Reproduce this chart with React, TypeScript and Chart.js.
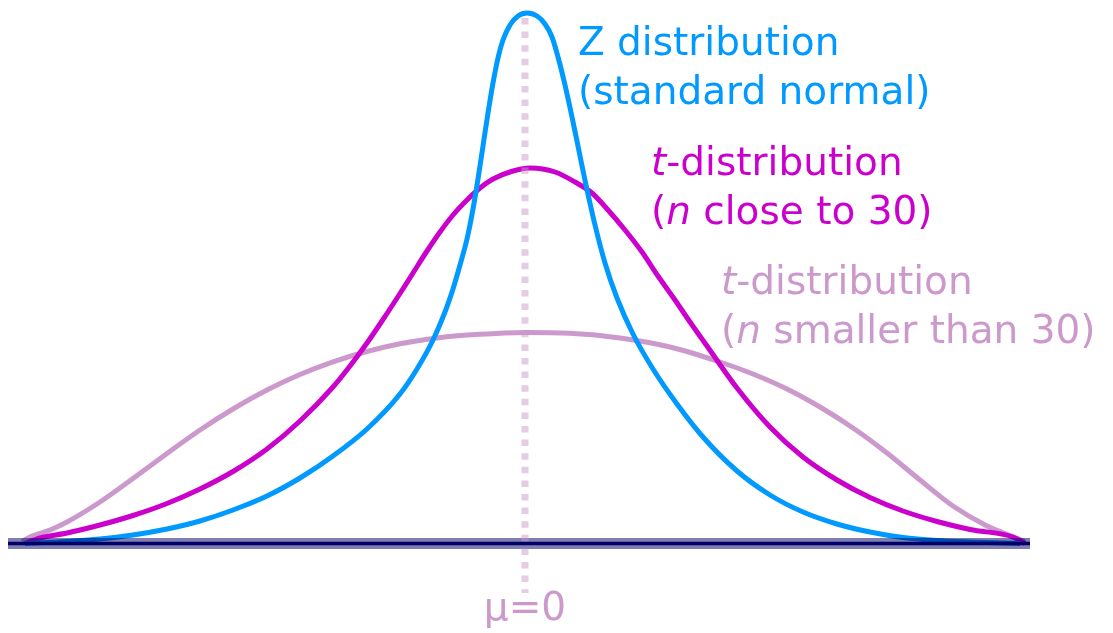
import React, { useEffect, useRef } from "react";
import { Chart, registerables } from "chart.js";

Chart.register(...registerables);

// Z distribution (standard normal)
const zX = [-5.0, -4.58, -4.25, -3.92, -3.58, -3.25, -2.92, -2.58, -2.25, -1.92, -1.58, -1.25, -1.08, -0.92, -0.8, -0.72, -0.65, -0.58, -0.52, -0.47, -0.42, -0.37, -0.32, -0.27, -0.22, -0.15, -0.07, 0.02, 0.12, 0.2, 0.27, 0.33, 0.4, 0.47, 0.54, 0.61, 0.7, 0.8, 0.92, 1.08, 1.28, 1.52, 1.78, 2.12, 2.45, 2.78, 3.12, 3.45, 3.78, 4.12, 4.45, 4.95];
const zY = [0, 0.002, 0.0045, 0.0085, 0.0145, 0.0225, 0.0335, 0.0475, 0.0655, 0.0875, 0.1145, 0.1495, 0.1745, 0.2035, 0.2315, 0.2545, 0.2785, 0.3045, 0.3345, 0.3645, 0.3975, 0.4305, 0.4605, 0.4855, 0.5035, 0.5185, 0.5275, 0.5305, 0.5275, 0.5195, 0.5065, 0.4865, 0.4585, 0.4265, 0.3925, 0.3585, 0.3185, 0.2805, 0.2455, 0.2095, 0.1745, 0.1395, 0.1065, 0.0725, 0.0485, 0.0315, 0.0195, 0.0115, 0.006, 0.003, 0.0015, 0];

// t-distribution, n close to 30
const t30X = [-5.0, -4.85, -4.58, -4.25, -3.92, -3.58, -3.25, -2.92, -2.58, -2.25, -1.92, -1.75, -1.58, -1.42, -1.25, -1.12, -0.98, -0.85, -0.72, -0.58, -0.45, -0.32, -0.12, 0.05, 0.3, 0.5, 0.67, 0.83, 1.0, 1.17, 1.33, 1.5, 1.65, 1.82, 2.12, 2.45, 2.78, 3.12, 3.45, 3.78, 4.12, 4.45, 4.88, 5.0];
const t30Y = [0, 0.0055, 0.0105, 0.0185, 0.028, 0.04, 0.0545, 0.072, 0.0945, 0.1225, 0.1565, 0.1775, 0.2005, 0.224, 0.25, 0.2705, 0.2925, 0.3115, 0.3285, 0.3435, 0.3555, 0.3645, 0.3725, 0.3755, 0.3715, 0.3615, 0.3505, 0.3335, 0.3135, 0.2915, 0.2675, 0.2435, 0.2215, 0.1975, 0.1555, 0.1165, 0.0865, 0.0635, 0.046, 0.0325, 0.022, 0.014, 0.0065, 0];

// t-distribution, n smaller than 30
const tSmallX = [-5.03, -4.95, -4.75, -4.58, -4.25, -3.92, -3.58, -3.25, -2.92, -2.58, -2.25, -1.92, -1.58, -1.25, -0.92, -0.58, -0.25, 0.0, 0.45, 0.95, 1.45, 1.95, 2.28, 2.62, 2.95, 3.28, 3.62, 3.95, 4.28, 4.62, 4.8, 5.0];
const tSmallY = [0.002, 0.0065, 0.0135, 0.0215, 0.0415, 0.065, 0.09, 0.1135, 0.1345, 0.1535, 0.169, 0.1817, 0.192, 0.1997, 0.2051, 0.2085, 0.2102, 0.211, 0.2102, 0.2055, 0.1965, 0.1815, 0.1695, 0.1545, 0.1365, 0.1155, 0.0905, 0.0635, 0.0375, 0.0175, 0.01, 0.002];

// baseline and mean marker
const baseX = [-5.17, 5.05];
const baseY = [0, 0];
const meanX = [0, 0];
const meanY = [0.5255, -0.0495];

const meanLabel = "μ=0";

type Seg = [string, boolean];
const zLabel: Seg[][] = [[["Z distribution", false]], [["(standard normal)", false]]];
const t30Label: Seg[][] = [[["t", true], ["-distribution", false]], [["(", false], ["n", true], [" close to 30)", false]]];
const tSmallLabel: Seg[][] = [[["t", true], ["-distribution", false]], [["(", false], ["n", true], [" smaller than 30)", false]]];

const pts = (xs: number[], ys: number[]) => xs.map((x, i) => ({ x, y: ys[i] }));

const FONT = "'DejaVu Sans', Verdana, sans-serif";
const SIZE = 39;

const textPlugin = {
  id: "textLabels",
  afterDatasetsDraw(chart: any) {
    const ctx: CanvasRenderingContext2D = chart.ctx;
    ctx.save();
    ctx.textBaseline = "alphabetic";
    const blocks: { lines: Seg[][]; color: string; x: number; y: number }[] = [
      { lines: zLabel, color: "#0099FF", x: 578, y: 55 },
      { lines: t30Label, color: "#CC00CC", x: 651, y: 175 },
      { lines: tSmallLabel, color: "#CC99CC", x: 721, y: 294 },
    ];
    const lh = 48.5;
    for (const b of blocks) {
      ctx.fillStyle = b.color;
      b.lines.forEach((line, li) => {
        let cx = b.x;
        const cy = b.y + li * lh;
        for (const [txt, it] of line) {
          ctx.font = `${it ? "italic " : ""}${SIZE}px ${FONT}`;
          ctx.textAlign = "left";
          ctx.fillText(txt, cx, cy);
          cx += ctx.measureText(txt).width;
        }
      });
    }
    const xs = chart.scales.x;
    ctx.font = `${SIZE}px ${FONT}`;
    ctx.fillStyle = "#CC99CC";
    ctx.textAlign = "center";
    ctx.fillText(meanLabel, xs.getPixelForValue(0), 620);
    ctx.restore();
  },
};

export default function App() {
  const ref = useRef<HTMLCanvasElement>(null);
  useEffect(() => {
    if (!ref.current) return;
    const common = { pointRadius: 0, pointHoverRadius: 0, fill: false, clip: false as any };
    const chart = new Chart(ref.current, {
      type: "line",
      data: {
        datasets: [
          { ...common, data: pts(meanX, meanY), borderColor: "rgba(204,153,204,0.5)", borderWidth: 7, borderDash: [6.5, 7.1], tension: 0, order: 0 },
          { ...common, data: pts(baseX, baseY), borderColor: "#000066", borderWidth: 3.5, tension: 0, order: 1 },
          { ...common, data: pts(baseX, baseY), borderColor: "rgba(0,0,102,0.5)", borderWidth: 11, tension: 0, order: 2 },
          { ...common, data: pts(zX, zY), borderColor: "#0099FF", borderWidth: 5, cubicInterpolationMode: "monotone", order: 3 },
          { ...common, data: pts(t30X, t30Y), borderColor: "#CC00CC", borderWidth: 5, cubicInterpolationMode: "monotone", order: 4 },
          { ...common, data: pts(tSmallX, tSmallY), borderColor: "#CC99CC", borderWidth: 5, cubicInterpolationMode: "monotone", order: 5 },
        ] as any,
      },
      options: {
        animation: false,
        responsive: false,
        devicePixelRatio: 1,
        layout: { padding: 0 },
        events: [],
        plugins: { legend: { display: false }, tooltip: { enabled: false } },
        scales: {
          x: { type: "linear", min: -5.25, max: 5.88, display: false },
          y: { type: "linear", min: -0.0895, max: 0.5435, display: false },
        },
      },
      plugins: [textPlugin],
    });
    return () => chart.destroy();
  }, []);
  return (
    <div style={{ position: "fixed", left: 0, top: 0, width: 1113, height: 633, background: "#fff" }}>
      <canvas ref={ref} width={1113} height={633} style={{ display: "block" }} />
    </div>
  );
}
